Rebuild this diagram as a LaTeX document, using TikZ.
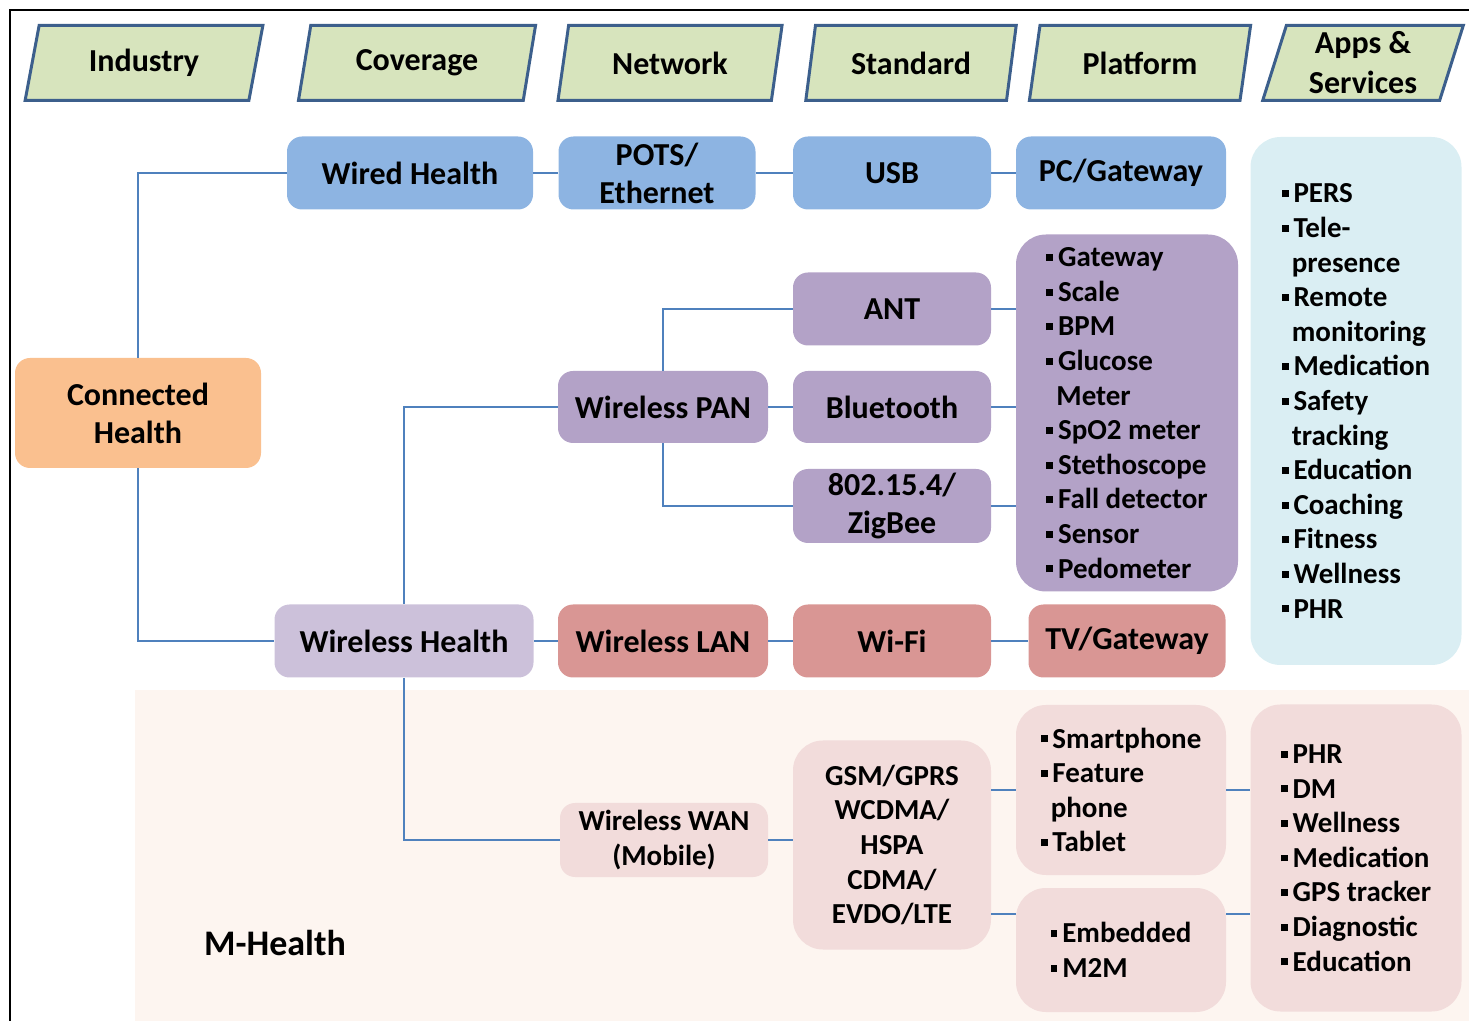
\documentclass[tikz,border=0pt]{standalone}
\usepackage{fontspec}
\setmainfont{Carlito}
\usetikzlibrary{positioning,shapes.geometric}
\definecolor{hdrfill}{HTML}{D7E4BD}
\definecolor{hdrline}{HTML}{3C5F8C}
\definecolor{wiredfill}{HTML}{8DB4E2}
\definecolor{connfill}{HTML}{FAC08F}
\definecolor{panfill}{HTML}{B3A2C7}
\definecolor{wlessfill}{HTML}{CCC1DA}
\definecolor{lanfill}{HTML}{D99694}
\definecolor{mobfill}{HTML}{F2DCDB}
\definecolor{mhealthbg}{HTML}{FDF5F0}
\definecolor{appsfill}{HTML}{DAEEF3}
\definecolor{linkblue}{HTML}{4F81BD}
\newcommand{\sqb}{\rule[0.2em]{0.24em}{0.24em}\,}
\newcommand{\cont}{\hspace{0.35em}}

\tikzset{
  sz/.style 2 args={minimum width=#1*0.5pt, minimum height=#2*0.5pt},
  hdr/.style={trapezium, trapezium left angle=75, trapezium right angle=105,
    trapezium stretches=true, draw=hdrline, line width=1.5pt, fill=hdrfill,
    inner sep=0pt, align=center, font=\fontsize{16}{20}\selectfont\bfseries},
  box/.style={rectangle, rounded corners=7.5pt, inner sep=0pt, align=center,
    font=\fontsize{16}{19}\selectfont\bfseries},
  listbox/.style={rectangle, rounded corners=15pt, inner sep=0pt, align=left,
    font=\fontsize{14.5}{17.3}\selectfont\bfseries},
  link/.style={draw=linkblue, line width=1pt},
}

\begin{document}
\begin{tikzpicture}[x=0.5pt, y=-0.5pt]
  \useasboundingbox (0,0) rectangle (1469,1021);
  % frame and M-Health area
  \draw[line width=1.2pt] (10,1021) -- (10,10) -- (1469,10);
  \fill[mhealthbg] (135,690) rectangle (1469,1021);
  \node[font=\fontsize{18}{22}\selectfont\bfseries] (mlabel) at (275,943) {M-Health};

  % header row
  \node[hdr, sz={238}{75}] (industry) at (144,63) {Industry};
  \node[hdr, sz={238}{75}] (coverage) at (417,63) {Coverage};
  \node[hdr, sz={225}{75}] (network) at (670,63) {Network};
  \node[hdr, sz={211}{75}] (standard) at (911,63) {Standard};
  \node[hdr, sz={222}{75}] (platform) at (1140,63) {Platform};
  \node[hdr, sz={201}{75}] (appsserv) at (1363,63) {Apps \&\\Services};

  % wired path
  \node[box, fill=connfill, sz={246}{110}] (conn) at (138,413) {Connected\\Health};
  \node[box, fill=wiredfill, sz={246}{73}] (wired) at (410,173) {Wired Health};
  \node[box, fill=wiredfill, sz={197}{73}] (pots) at (657,173) {POTS/\\Ethernet};
  \node[box, fill=wiredfill, sz={198}{73}] (usb) at (892,173) {USB};
  \node[box, fill=wiredfill, sz={210}{73}] (pc) at (1121,173) {PC/Gateway};

  % wireless PAN
  \node[box, fill=wlessfill, sz={259}{73}] (wless) at (404,641) {Wireless Health};
  \node[box, fill=panfill, sz={210}{72}] (pan) at (663,407) {Wireless PAN};
  \node[box, fill=panfill, sz={198}{73}] (ant) at (892,309) {ANT};
  \node[box, fill=panfill, sz={198}{72}] (bt) at (892,407) {Bluetooth};
  \node[box, fill=panfill, sz={198}{74}] (zigbee) at (892,506) {802.15.4/\\ZigBee};
  \node[listbox, fill=panfill, sz={222}{357}] (devices) at (1127,413)
    {\sqb Gateway\\\sqb Scale\\\sqb BPM\\\sqb Glucose\\\cont Meter\\\sqb SpO2 meter\\
     \sqb Stethoscope\\\sqb Fall detector\\\sqb Sensor\\\sqb Pedometer};

  % wireless LAN
  \node[box, fill=lanfill, sz={210}{73}] (lan) at (663,641) {Wireless LAN};
  \node[box, fill=lanfill, sz={198}{73}] (wifi) at (892,641) {Wi-Fi};
  \node[box, fill=lanfill, sz={197}{73}] (tv) at (1127,641) {TV/Gateway};

  % services
  \node[listbox, fill=appsfill, sz={211}{528}] (apps) at (1356,401)
    {\sqb PERS\\\sqb Tele-\\\cont presence\\\sqb Remote\\\cont monitoring\\
     \sqb Medication\\\sqb Safety\\\cont tracking\\\sqb Education\\\sqb Coaching\\
     \sqb Fitness\\\sqb Wellness\\\sqb PHR};

  % mobile
  \node[box, fill=mobfill, sz={208}{74}, font=\fontsize{14.5}{17.3}\selectfont\bfseries]
    (wan) at (664,840) {Wireless WAN\\(Mobile)};
  \node[listbox, fill=mobfill, sz={198}{209}, align=center] (gsm) at (892,845)
    {GSM/GPRS\\WCDMA/\\HSPA\\CDMA/\\EVDO/LTE};
  \node[listbox, fill=mobfill, sz={210}{170}] (smart) at (1121,790)
    {\sqb Smartphone\\\sqb Feature\\\cont phone\\\sqb Tablet};
  \node[listbox, fill=mobfill, sz={210}{124}] (embed) at (1121,950)
    {\sqb Embedded\\\sqb M2M};
  \node[listbox, fill=mobfill, sz={211}{307}] (mapps) at (1356,858)
    {\sqb PHR\\\sqb DM\\\sqb Wellness\\\sqb Medication\\\sqb GPS tracker\\
     \sqb Diagnostic\\\sqb Education};
  \coordinate (lowlink) at (0,914);

  % connectors
  \draw[link] (conn.north) |- (wired.west);
  \draw[link] (conn.south) |- (wless.west);
  \draw[link] (wired) -- (pots);
  \draw[link] (pots) -- (usb);
  \draw[link] (usb) -- (pc);
  \draw[link] (wless.north) |- (pan.west);
  \draw[link] (pan.north) |- (ant.west);
  \draw[link] (pan.south) |- (zigbee.west);
  \draw[link] (pan) -- (bt);
  \draw[link] (ant.east) -- (devices.west |- ant.east);
  \draw[link] (bt.east) -- (devices.west |- bt.east);
  \draw[link] (zigbee.east) -- (devices.west |- zigbee.east);
  \draw[link] (wless) -- (lan);
  \draw[link] (lan) -- (wifi);
  \draw[link] (wifi) -- (tv);
  \draw[link] (wless.south) |- (wan.west);
  \draw[link] (wan.east) -- (gsm.west |- wan.east);
  \draw[link] (gsm.east |- smart.west) -- (smart.west);
  \draw[link] (gsm.east |- lowlink) -- (embed.west |- lowlink);
  \draw[link] (smart.east) -- (mapps.west |- smart.east);
  \draw[link] (embed.east |- lowlink) -- (mapps.west |- lowlink);
\end{tikzpicture}
\end{document}
